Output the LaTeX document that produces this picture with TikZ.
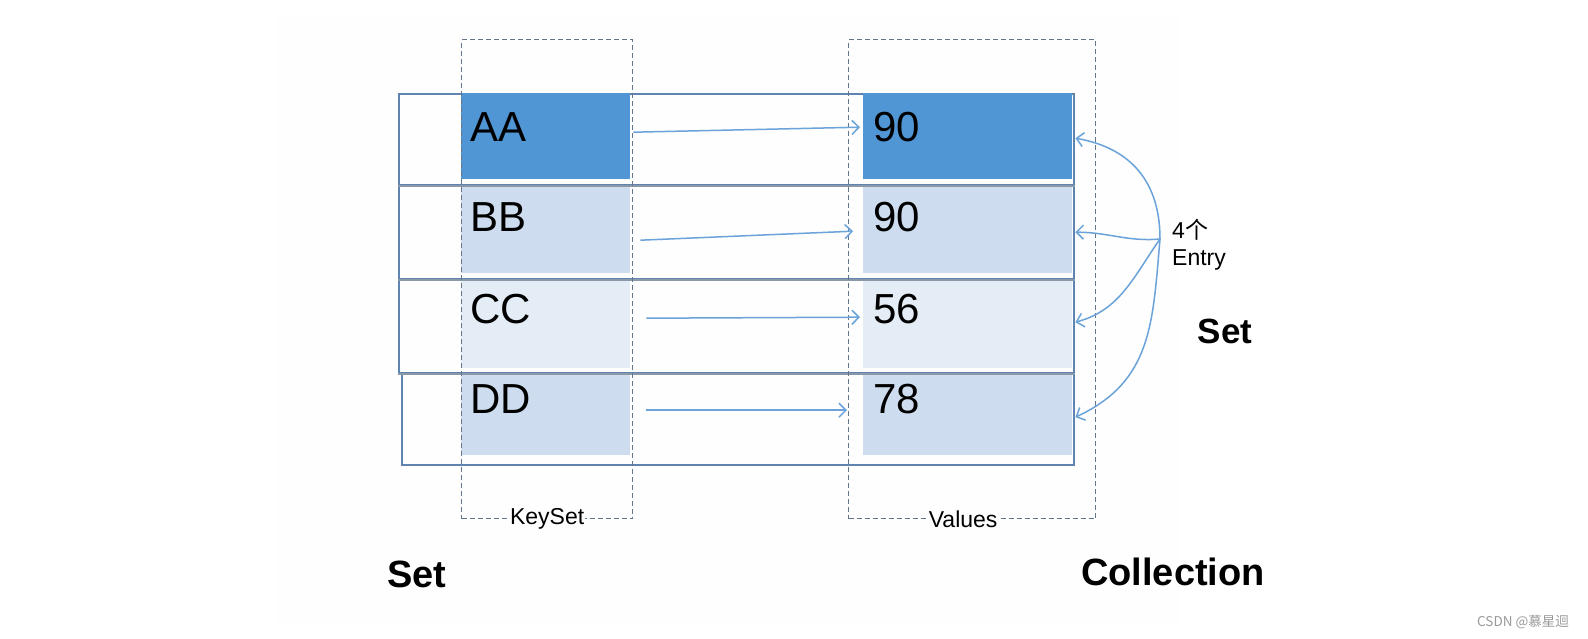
\documentclass[tikz,border=0pt]{standalone}
\usepackage{fontspec}
\setmainfont{Liberation Sans}
\newfontfamily\cjk{Noto Sans CJK SC}
\usetikzlibrary{arrows.meta,calc}

\definecolor{slideBg}{RGB}{253,254,253}
\definecolor{cellDark}{RGB}{80,150,212}
\definecolor{cellLight}{RGB}{205,220,238}
\definecolor{cellPale}{RGB}{228,236,246}
\definecolor{frameCol}{RGB}{96,132,178}
\definecolor{sepCol}{RGB}{138,152,168}
\definecolor{linkCol}{RGB}{107,163,218}
\definecolor{dashCol}{RGB}{100,118,140}

\begin{document}
\begin{tikzpicture}[x=1pt,y=1pt]
\tikzset{
  cell/.style={draw=none, inner sep=0pt, anchor=north west, minimum width=#1},
  celltext/.style={anchor=base west, inner sep=0pt, font=\fontsize{42}{50}\selectfont},
  rowbox/.style={draw=frameCol, line width=1.8pt, inner sep=0pt, anchor=north west},
  sepline/.style={draw=sepCol, line width=2.4pt},
  dbox/.style={draw=dashCol, line width=1.3pt, dash pattern=on 5pt off 3pt, inner sep=0pt, anchor=north west},
  boxlabel/.style={fill=slideBg, inner sep=1pt, font=\fontsize{23}{26}\selectfont},
  bigtext/.style={inner sep=0pt, font=\bfseries\fontsize{38}{44}\selectfont},
  link/.style={draw=linkCol, line width=1.5pt, -{Straight Barb[length=7pt,width=14pt]}}
}
\useasboundingbox (0,0) rectangle (1588,-639);
\fill[slideBg] (276,-15) rectangle (1180,-623);

% rows
\node[rowbox, minimum width=675, minimum height=91] (row1) at (398,-93) {};
\node[rowbox, minimum width=675, minimum height=94] (row2) at (398,-184) {};
\node[rowbox, minimum width=675, minimum height=94] (row3) at (398,-278) {};
\node[rowbox, minimum width=672, minimum height=92] (row4) at (401,-372) {};

% cells with keys and values
\foreach \i/\top/\h/\fillc/\key/\val/\base in {1/93/86/cellDark/AA/90/142, 2/187/86/cellLight/BB/90/232, 3/280/88/cellPale/CC/56/323, 4/374/81/cellLight/DD/78/413}{
  \node[cell=169, minimum height=\h, fill=\fillc] (k\i) at (461,-\top) {};
  \node[cell=209, minimum height=\h, fill=\fillc] (v\i) at (863,-\top) {};
  \node[celltext] (kt\i) at (470,-\base) {\key};
  \node[celltext] (vt\i) at (873,-\base) {\val};
}
\foreach \i in {1,2,3}
  \draw[sepline] (row\i.south west) -- (row\i.south east);

% KeySet and Values
\node[dbox, minimum width=171, minimum height=479] (keyset) at (461,-39) {};
\node[dbox, minimum width=247, minimum height=479] (values) at (848,-39) {};
\node[boxlabel] (keysetlbl) at (keyset.south) {KeySet};
\node[boxlabel] (valueslbl) at ($(values.south)+(-9,0)$) {Values};

% key -> value
\foreach \i/\sx/\sy/\ex/\ey in {1/3/4/-3/9, 2/10/-10/-10/-1, 3/16/6/-3/7, 4/16/4.5/-16/4.5}
  \draw[link] ($(k\i.east)+(\sx,\sy)$) -- ($(v\i.west)+(\ex,\ey)$);

% entries
\coordinate (br) at (1160,-239);
\draw[link] (br) to[out=90,in=-10,looseness=1.1] ($(v1.east)+(3,-2)$);
\draw[link] (br) to[out=185,in=0] ($(v2.east)+(3,-2)$);
\draw[link] (br) to[out=235,in=15] ($(v3.east)+(3,2)$);
\draw[link] (br) to[out=-95,in=25,looseness=1.1] ($(v4.east)+(3,-2.5)$);
\node[anchor=west, align=left, inner sep=0pt, font=\fontsize{23}{27}\selectfont] (entry) at (1172,-245) {4{\cjk 个}\\Entry};

\node[bigtext, font=\bfseries\fontsize{35}{40}\selectfont] (setr) at (1225,-331) {Set};
\node[bigtext] (setl) at (417,-574) {Set};
\node[bigtext] (coll) at (1173,-572) {Collection};

\node[inner sep=0pt, text=gray!80, font=\cjk\fontsize{13.5}{16}\selectfont] (mark) at (1523,-622) {CSDN @慕星迴};
\end{tikzpicture}
\end{document}
